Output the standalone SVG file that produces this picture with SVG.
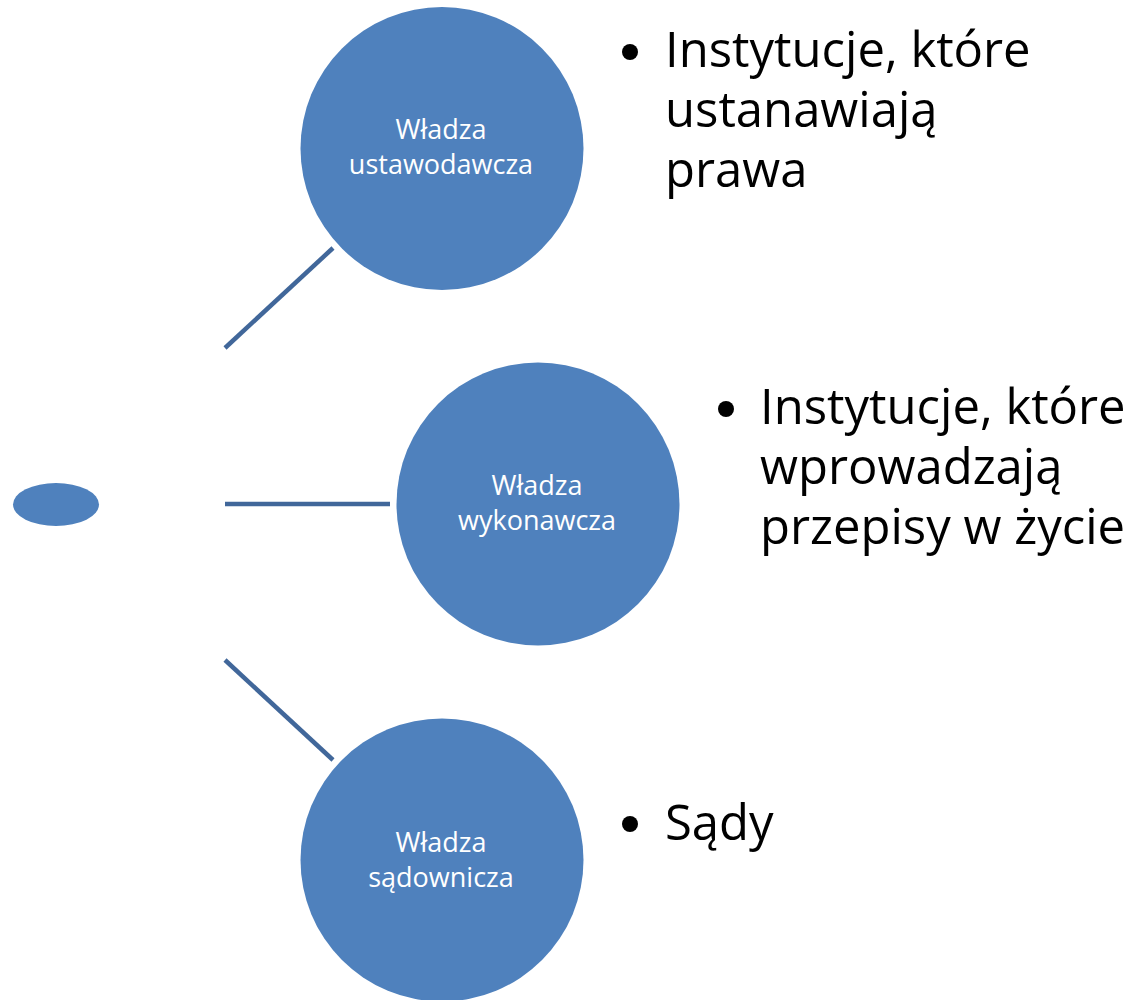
<svg xmlns="http://www.w3.org/2000/svg" width="1132" height="1000" viewBox="0 0 1132 1000">
<style>
.node{fill:#4f81bd;}
.lbl{font-family:"Open Sans","Liberation Sans",sans-serif;font-size:27px;fill:#ffffff;text-anchor:middle;}
.conn{stroke:#41679a;stroke-width:4.5;fill:none;stroke-linecap:butt;}
.txt{font-family:"Open Sans","Liberation Sans",sans-serif;font-size:49px;fill:#000000;}
.bul{fill:#000000;}
</style>
<rect width="1132" height="1000" fill="#ffffff"/>
<g id="connectors">
<line class="conn" x1="225" y1="348" x2="333" y2="248"/>
<line class="conn" x1="225" y1="504" x2="390" y2="504"/>
<line class="conn" x1="225" y1="660" x2="333" y2="760"/>
</g>
<g id="root">
<ellipse class="node" cx="56" cy="504.5" rx="43" ry="21.5"/>
</g>
<g id="node-ustawodawcza">
<circle class="node" cx="442" cy="148.5" r="141.5"/>
<text class="lbl" x="441" y="139">Władza</text>
<text class="lbl" x="441" y="174">ustawodawcza</text>
</g>
<g id="node-wykonawcza">
<circle class="node" cx="538" cy="504" r="141.5"/>
<text class="lbl" x="537" y="495">Władza</text>
<text class="lbl" x="537" y="530">wykonawcza</text>
</g>
<g id="node-sadownicza">
<circle class="node" cx="442" cy="860" r="141.5"/>
<text class="lbl" x="441" y="852">Władza</text>
<text class="lbl" x="441" y="887">sądownicza</text>
</g>
<g id="text-ustawodawcza">
<circle class="bul" cx="630" cy="52" r="8"/>
<text class="txt" x="665" y="67">Instytucje, które</text>
<text class="txt" x="665" y="127">ustanawiają</text>
<text class="txt" x="665" y="187">prawa</text>
</g>
<g id="text-wykonawcza">
<circle class="bul" cx="726" cy="409" r="8"/>
<text class="txt" x="760" y="424">Instytucje, które</text>
<text class="txt" x="760" y="484">wprowadzają</text>
<text class="txt" x="760" y="544">przepisy w życie</text>
</g>
<g id="text-sadownicza">
<circle class="bul" cx="630" cy="824" r="8"/>
<text class="txt" x="665" y="840">Sądy</text>
</g>
</svg>
